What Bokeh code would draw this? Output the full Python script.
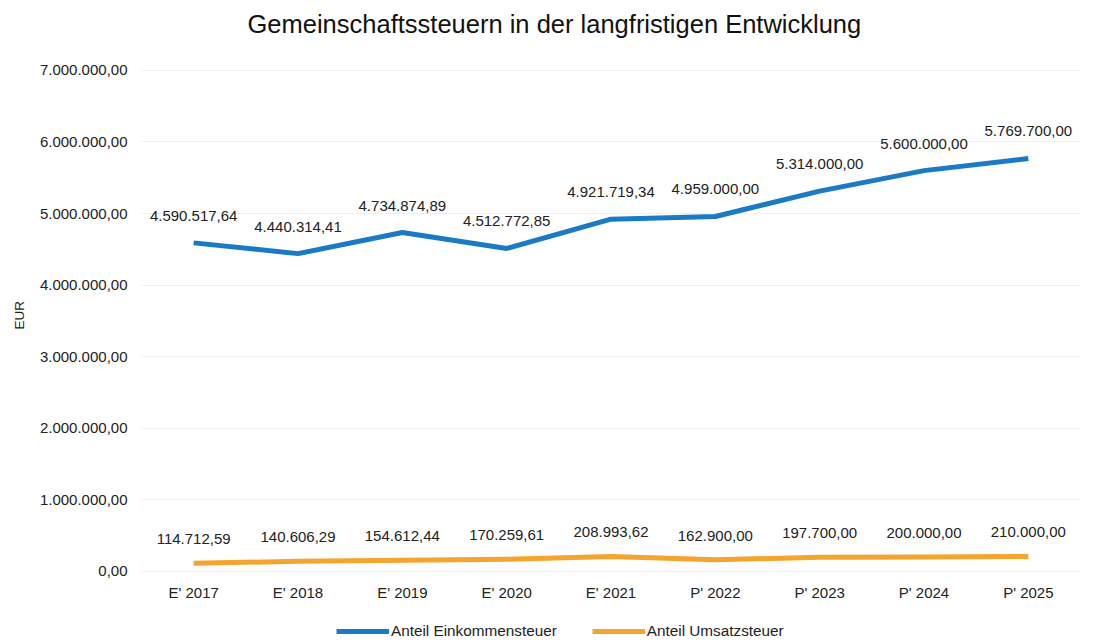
from bokeh.plotting import figure
from bokeh.models import (FactorRange, FixedTicker, Legend, LegendItem, LabelSet,
                          ColumnDataSource, Range1d, Title)
from bokeh.core.properties import value
from bokeh.embed import file_html
from bokeh.resources import INLINE

categories = ["E' 2017", "E' 2018", "E' 2019", "E' 2020", "E' 2021",
              "P' 2022", "P' 2023", "P' 2024", "P' 2025"]
einkommensteuer = [4590517.64, 4440314.41, 4734874.89, 4512772.85, 4921719.34,
                   4959000.00, 5314000.00, 5600000.00, 5769700.00]
umsatzsteuer = [114712.59, 140606.29, 154612.44, 170259.61, 208993.62,
                162900.00, 197700.00, 200000.00, 210000.00]
y_ticks = [0, 1000000, 2000000, 3000000, 4000000, 5000000, 6000000, 7000000]

title_text = "Gemeinschaftssteuern in der langfristigen Entwicklung"
y_label = "EUR"
series_names = ["Anteil Einkommensteuer", "Anteil Umsatzsteuer"]


def de_fmt(v):
    s = f"{v:,.2f}"
    return s.replace(",", "X").replace(".", ",").replace("X", ".")


FONT = "Liberation Sans"
BLUE = "#1a7bc4"
ORANGE = "#f5a42e"
# visible value range incl. free space above 7 Mio. and below 0 (labels, legend)
Y_TOP = 7390000
Y_BOTTOM = -965000

p = figure(width=1088, height=640, x_range=FactorRange(factors=categories),
           y_range=Range1d(Y_BOTTOM, Y_TOP), output_backend="svg",
           toolbar_location=None,
           min_border_left=140, min_border_right=8, min_border_top=42,
           min_border_bottom=0)

p.title.text = title_text
p.title.align = "left"
p.title.offset = 106
p.title.standoff = 10
p.title.text_font = FONT
p.title.text_font_size = "25.5px"
p.title.text_font_style = "normal"
p.title.text_color = "#111111"

p.outline_line_color = None
p.xgrid.grid_line_color = None
p.ygrid.grid_line_color = "#f0f0f0"
p.ygrid.ticker = FixedTicker(ticks=y_ticks)

p.yaxis.ticker = FixedTicker(ticks=y_ticks)
p.yaxis.major_label_overrides = {t: de_fmt(t) for t in y_ticks}

p.xaxis.fixed_location = 0

for ax in (p.xaxis, p.yaxis):
    ax.axis_line_color = None
    ax.major_tick_line_color = None
    ax.minor_tick_line_color = None
    ax.major_label_text_font = FONT
    ax.major_label_text_font_size = "15px"
    ax.major_label_text_color = "#222222"
p.yaxis.major_label_standoff = 8
p.xaxis.major_label_standoff = 7

# y-axis caption, centred on the 0 .. 7 Mio. span of the value axis
ytitle = Title(text=y_label, align="left", offset=311, standoff=19,
               text_font=FONT, text_font_size="13.5px", text_font_style="normal",
               text_color="#222222")
p.add_layout(ytitle, "left")

src = ColumnDataSource(dict(
    x=categories, e=einkommensteuer, u=umsatzsteuer,
    el=[de_fmt(v) for v in einkommensteuer],
    ul=[de_fmt(v) for v in umsatzsteuer]))

r1 = p.line("x", "e", source=src, line_color=BLUE, line_width=5, line_join="round")
r2 = p.line("x", "u", source=src, line_color=ORANGE, line_width=5, line_join="round")

for col, lab, off in (("e", "el", 27), ("u", "ul", 24)):
    p.add_layout(LabelSet(x="x", y=col, text=lab, source=src, y_offset=off,
                          text_align="center", text_baseline="middle",
                          text_font=value(FONT), text_font_size=value("15px"),
                          text_color="#222222"))

legend = Legend(items=[LegendItem(label=series_names[0], renderers=[r1]),
                       LegendItem(label=series_names[1], renderers=[r2])],
                orientation="horizontal", location=(195, 0),
                glyph_width=53, glyph_height=16, label_standoff=2, spacing=35,
                padding=0, margin=0, border_line_color=None,
                background_fill_alpha=0,
                label_text_font=FONT, label_text_font_size="15.3px",
                label_text_color="#222222")
p.add_layout(legend, "center")

open("out.html", "w").write(file_html(p, INLINE))
